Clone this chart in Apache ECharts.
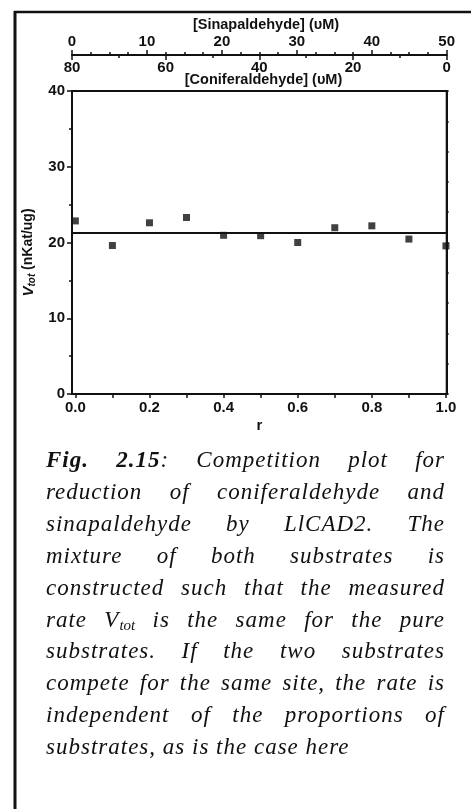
<!DOCTYPE html>
<html>
<head>
<meta charset="utf-8">
<script src="https://cdn.jsdelivr.net/npm/echarts@6/dist/echarts.min.js"></script>
<style>
  html, body { margin: 0; padding: 0; background: #fff; }
  #chart { position: absolute; left: 0; top: 0; width: 471px; height: 809px; }
  #caption {
    position: absolute; left: 46px; top: 444px; width: 399px;
    font-family: "Liberation Serif", serif; font-style: italic;
    font-size: 23px; letter-spacing: 1px; line-height: 31.9px; color: #111;
  }
  #caption div { text-align: justify; text-align-last: justify; white-space: nowrap; }
  #caption div.last { text-align: left; text-align-last: left; }
  #caption sub { font-size: 15px; vertical-align: -3px; line-height: 0; letter-spacing: 0; }
</style>
</head>
<body>
<div id="chart"></div>
<div id="caption"></div>
<script>
// Mole fraction r of sinapaldehyde in the mixture
const rValues = [0.0, 0.1, 0.2, 0.3, 0.4, 0.5, 0.6, 0.7, 0.8, 0.9, 1.0];
// Measured total rate V_tot (nKat/ug)
const vTot = [22.85, 19.6, 22.6, 23.3, 20.95, 20.9, 20.0, 21.95, 22.2, 20.45, 19.55];
// Mean rate drawn as the horizontal line
const meanRate = 21.25;

const rTickValues = [0, 0.1, 0.2, 0.3, 0.4, 0.5, 0.6, 0.7, 0.8, 0.9, 1.0];
const rLabelValues = [0, 0.2, 0.4, 0.6, 0.8, 1.0];

const sinapTitle = '[Sinapaldehyde] (υM)';
const coniferTitle = '[Coniferaldehyde] (υM)';

const captionLines = [
  '<b>Fig. 2.15</b>: Competition plot for',
  'reduction of coniferaldehyde and',
  'sinapaldehyde by LlCAD2. The',
  'mixture of both substrates is',
  'constructed such that the measured',
  'rate V<sub>tot</sub> is the same for the pure',
  'substrates. If the two substrates',
  'compete for the same site, the rate is',
  'independent of the proportions of',
  'substrates, as is the case here'
];

const cap = document.getElementById('caption');
captionLines.forEach((t, i) => {
  const d = document.createElement('div');
  d.innerHTML = t;
  if (i === captionLines.length - 1) d.className = 'last';
  cap.appendChild(d);
});

const FONT = '"Liberation Sans", Arial, sans-serif';
const INK = '#111';
const labelStyle = { color: INK, fontFamily: FONT, fontWeight: 'bold', fontSize: 15 };
const axisLine = { show: true, onZero: false, lineStyle: { color: INK, width: 2 } };

const chart = echarts.init(document.getElementById('chart'), null, { renderer: 'canvas' });

chart.setOption({
  backgroundColor: '#fff',
  animation: false,
  grid: {
    left: 72, right: 24.3, top: 91, bottom: 415,
    show: true, borderColor: INK, borderWidth: 2, backgroundColor: 'transparent'
  },
  xAxis: [
    {
      type: 'value', position: 'bottom', min: -0.009, max: 1.002,
      axisLine: axisLine,
      axisTick: { show: true, customValues: rTickValues, length: 4, lineStyle: { color: INK, width: 1.5 } },
      axisLabel: Object.assign({ customValues: rLabelValues, margin: 6,
        formatter: v => v.toFixed(1) }, labelStyle),
      splitLine: { show: false },
      name: 'r', nameLocation: 'middle', nameGap: 24,
      nameTextStyle: labelStyle
    },
    {
      // sinapaldehyde concentration scale, ticks and labels above the shared line
      type: 'value', position: 'top', offset: 36, min: 0, max: 50, interval: 10,
      axisLine: axisLine,
      axisTick: { show: true, length: 5, lineStyle: { color: INK, width: 1.5 } },
      minorTick: { show: true, splitNumber: 4, length: 3, lineStyle: { color: INK, width: 1.5 } },
      axisLabel: Object.assign({ margin: 6 }, labelStyle),
      splitLine: { show: false }
    },
    {
      // coniferaldehyde concentration scale, ticks and labels below the shared line
      type: 'value', position: 'top', offset: 36, min: 0, max: 80, interval: 20, inverse: true,
      axisLine: { show: false, onZero: false },
      axisTick: { show: true, inside: true, length: 5, lineStyle: { color: INK, width: 1.5 } },
      minorTick: { show: true, splitNumber: 2, length: 3, lineStyle: { color: INK, width: 1.5 } },
      axisLabel: Object.assign({ inside: true, margin: 5 }, labelStyle),
      splitLine: { show: false }
    }
  ],
  yAxis: [
    {
      type: 'value', position: 'left', min: 0, max: 40, interval: 10,
      axisLine: axisLine,
      axisTick: { show: true, length: 5, lineStyle: { color: INK, width: 1.5 } },
      minorTick: { show: true, splitNumber: 2, length: 3, lineStyle: { color: INK, width: 1.5 } },
      axisLabel: Object.assign({ margin: 7 }, labelStyle),
      splitLine: { show: false },
      name: '{v|V}{s|tot}{u| (nKat/ug)}', nameLocation: 'middle', nameGap: 33, nameRotate: 90,
      nameTextStyle: {
        color: INK,
        padding: [0, 20, 0, 0],
        rich: {
          v: { fontFamily: FONT, fontWeight: 'bold', fontStyle: 'italic', fontSize: 15, lineHeight: 18 },
          s: { fontFamily: FONT, fontWeight: 'bold', fontStyle: 'italic', fontSize: 10, lineHeight: 18, verticalAlign: 'bottom', padding: [6, 0, 0, 0] },
          u: { fontFamily: FONT, fontWeight: 'bold', fontSize: 14, lineHeight: 18 }
        }
      }
    },
    {
      type: 'value', position: 'right', min: 0, max: 40, interval: 4,
      axisLine: axisLine,
      axisTick: { show: true, length: 2, lineStyle: { color: INK, width: 1.5 } },
      axisLabel: { show: false },
      splitLine: { show: false }
    }
  ],
  series: [
    {
      type: 'scatter', xAxisIndex: 0, yAxisIndex: 0,
      data: rValues.map((r, i) => [r, vTot[i]]),
      symbol: 'rect', symbolSize: 7,
      itemStyle: { color: INK },
      markLine: {
        silent: true, symbol: 'none', label: { show: false },
        lineStyle: { color: INK, width: 2, type: 'solid' },
        data: [{ yAxis: meanRate }]
      }
    }
  ],
  graphic: [
    { type: 'line', shape: { x1: 15, y1: 11, x2: 15, y2: 809 }, style: { stroke: INK, lineWidth: 3 } },
    { type: 'line', shape: { x1: 14, y1: 12, x2: 471, y2: 12 }, style: { stroke: INK, lineWidth: 2.5 } },
    {
      type: 'text', x: 266, y: 25,
      style: { text: sinapTitle, fill: INK, font: 'bold 14.5px ' + FONT, align: 'center', verticalAlign: 'middle' }
    },
    {
      type: 'text', x: 263.5, y: 80,
      style: { text: coniferTitle, fill: INK, font: 'bold 14.5px ' + FONT, align: 'center', verticalAlign: 'middle' }
    }
  ]
});
</script>
</body>
</html>
